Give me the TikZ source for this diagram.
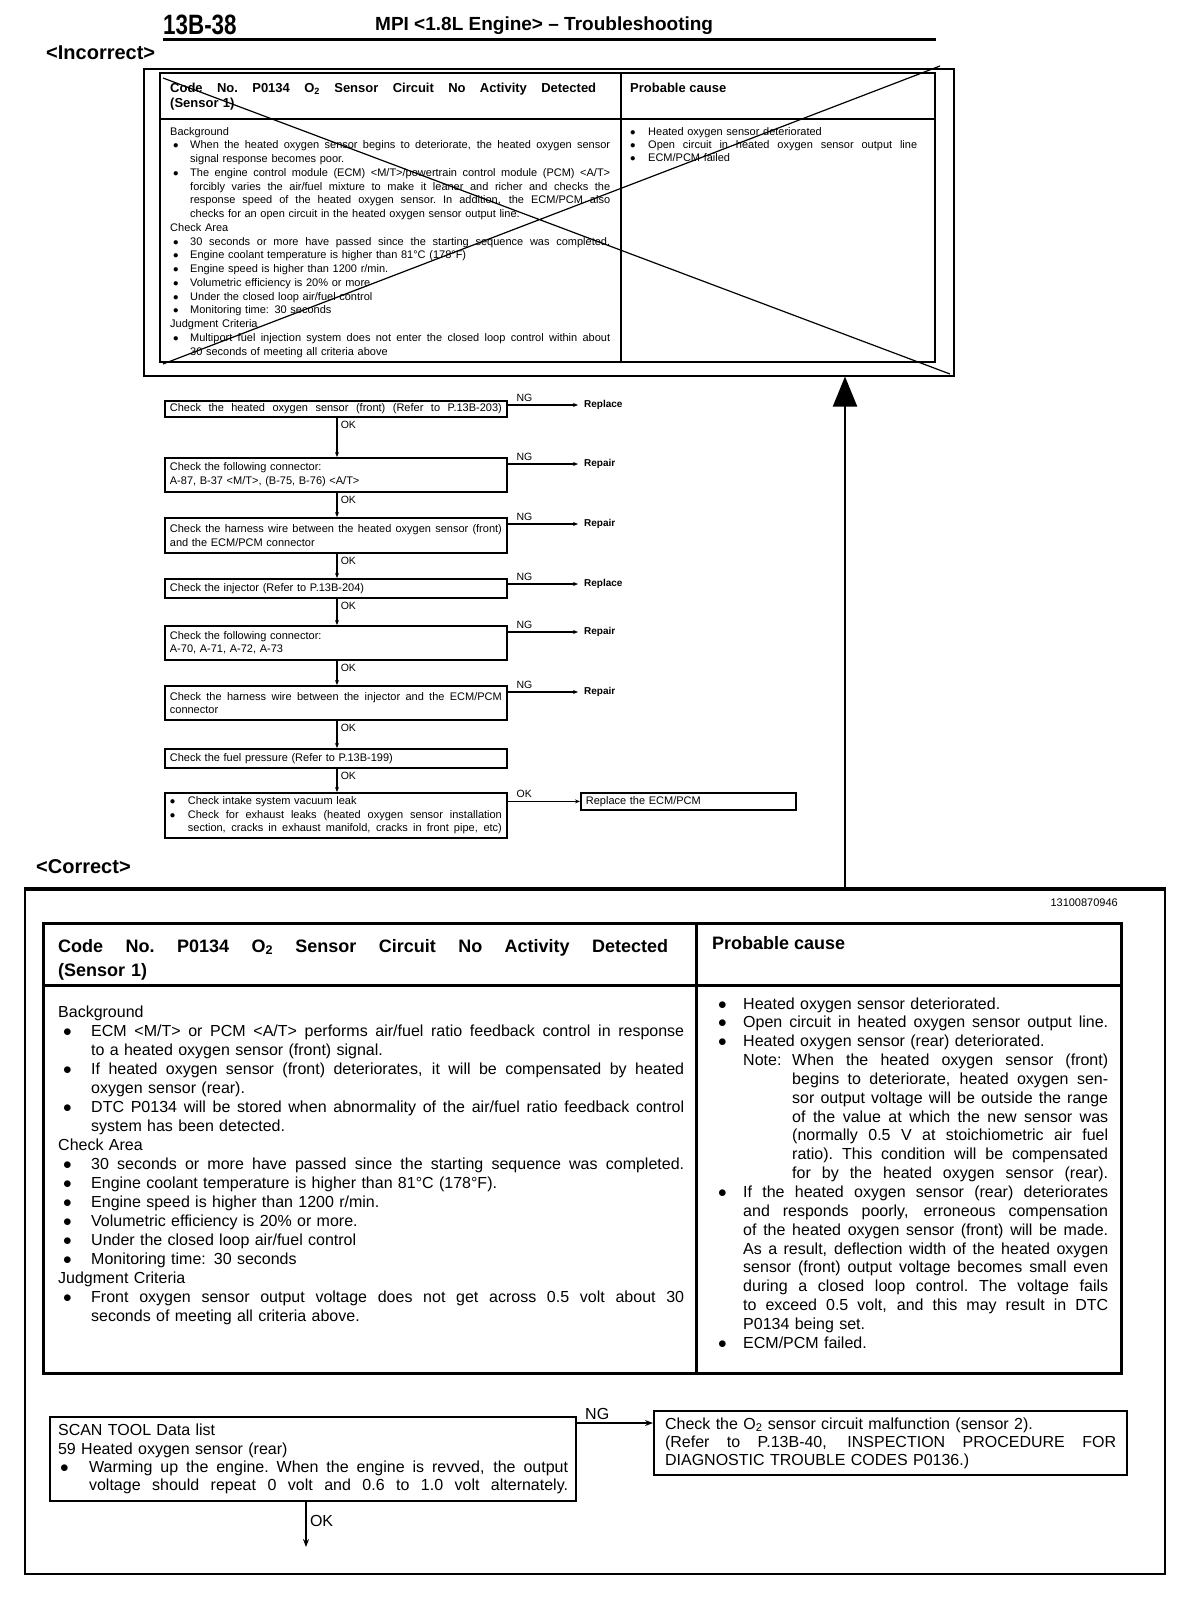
\documentclass[tikz,border=0pt]{standalone}
\usepackage{fontspec}
\setmainfont{Liberation Sans}
\newfontfamily\condfont[FakeStretch=0.8]{Liberation Sans}
\usetikzlibrary{arrows.meta,positioning}

\newlength{\bind}
\newlength{\boff}
\newcommand{\fsz}[2]{\fontsize{#1}{#2}\selectfont}
% one line: indent #1, label #2, text #3 (justified / natural)
\newcommand{\Lx}[3]{\noindent\hbox to\hsize{\makebox[#1][l]{#2}%
  \hbox to\dimexpr\hsize-#1\relax{\spaceskip=.28em plus 1fil\xspaceskip=.28em plus 1fil\relax #3}}\par}
\newcommand{\Ly}[3]{\noindent\hbox to\hsize{\makebox[#1][l]{#2}#3\hfil}\par}
\newcommand{\Lj}[1]{\Lx{0pt}{}{#1}}
\newcommand{\Ln}[1]{\Ly{0pt}{}{#1}}
\newcommand{\Bj}[1]{\Lx{\bind}{\hspace*{\boff}$\bullet$}{#1}}
\newcommand{\Bn}[1]{\Ly{\bind}{\hspace*{\boff}$\bullet$}{#1}}
\newcommand{\Cj}[1]{\Lx{\bind}{}{#1}}
\newcommand{\Cn}[1]{\Ly{\bind}{}{#1}}

\begin{document}
\begin{tikzpicture}[x=1pt, y=-1pt, >={Stealth[length=5pt,width=4pt]},
    flowbox/.style={draw, line width=1.8pt, anchor=north west, inner xsep=5pt, inner ysep=0pt,
      text width=332pt, font=\fsz{11}{13.6}},
    flowtag/.style={anchor=west, inner xsep=6pt, inner ysep=1pt, font=\bfseries\fsz{10}{12}},
    small/.style={inner sep=1pt, font=\fsz{10.5}{12}},
    bodytext/.style={anchor=base west, inner sep=0pt},
    panel/.style={draw, anchor=north west, inner sep=0pt},
    flowline/.style={line width=1.6pt, ->}]
  \fill[white] (0,0) rectangle (1200,1598);
  \useasboundingbox (0,0) rectangle (1200,1598);

  % page header
  \node[anchor=west, inner sep=0pt, font=\condfont\bfseries\fsz{28}{30}] (page) at (163,25) {13B-38};
  \node[anchor=west, inner sep=0pt, font=\bfseries\fsz{19}{22}] (heading) at (375,26) {MPI <1.8L Engine> -- Troubleshooting};
  \draw[line width=3pt] (163,39) -- (936,39);

  % <Incorrect>
  \node[anchor=west, inner sep=0pt, font=\bfseries\fsz{20}{22}] (incorrect) at (46,53) {<Incorrect>};
  \node[panel, line width=1.5pt, minimum width=810pt, minimum height=307pt] (iframe) at (143,68) {};
  \draw[line width=2.5pt] (160,73) rectangle (935,362);
  \draw[line width=2.5pt] (621,73) -- (621,362) (160,119) -- (935,119);

  \node[bodytext, text width=426pt, font=\bfseries\fsz{13}{15}] (ititle) at (170,92) {%
    \Lj{Code No. P0134 O\textsubscript{2} Sensor Circuit No Activity Detected}\Ln{(Sensor 1)}};
  \node[bodytext, font=\bfseries\fsz{13}{15}] (icause) at (630,92) {Probable cause};

  \node[bodytext, text width=440pt, font=\fsz{11}{13.76}] (ibody) at (170,135) {%
    \setlength{\bind}{20pt}\setlength{\boff}{3pt}%
    \Ln{Background}
    \Bj{When the heated oxygen sensor begins to deteriorate, the heated oxygen sensor}
    \Cn{signal response becomes poor.}
    \Bj{The engine control module (ECM) <M/T>/powertrain control module (PCM) <A/T>}
    \Cj{forcibly varies the air/fuel mixture to make it leaner and richer and checks the}
    \Cj{response speed of the heated oxygen sensor. In addition, the ECM/PCM also}
    \Cn{checks for an open circuit in the heated oxygen sensor output line.}
    \Ln{Check Area}
    \Bj{30 seconds or more have passed since the starting sequence was completed.}
    \Bn{Engine coolant temperature is higher than 81°C (178°F)}
    \Bn{Engine speed is higher than 1200 r/min.}
    \Bn{Volumetric efficiency is 20\% or more}
    \Bn{Under the closed loop air/fuel control}
    \Bn{Monitoring time: 30 seconds}
    \Ln{Judgment Criteria}
    \Bj{Multiport fuel injection system does not enter the closed loop control within about}
    \Cn{30 seconds of meeting all criteria above}};

  \node[bodytext, text width=287pt, font=\fsz{11}{13.3}] (icauses) at (630,135) {%
    \setlength{\bind}{18pt}\setlength{\boff}{0pt}%
    \Bn{Heated oxygen sensor deteriorated}
    \Bj{Open circuit in heated oxygen sensor output line}
    \Bn{ECM/PCM failed}};

  % crossed out
  \draw[line width=1.2pt] (163,78) -- (950,374) (940,66) -- (163,364);

  % incorrect flow
  \node[flowbox, minimum height=16pt] (chk1) at (164,400) {\Lj{Check the heated oxygen sensor (front) (Refer to P.13B-203)}};
  \node[flowbox, minimum height=34pt] (chk2) at (164,457) {\Ln{Check the following connector:}\Ln{A-87, B-37 <M/T>, (B-75, B-76) <A/T>}};
  \node[flowbox, minimum height=35pt] (chk3) at (164,517) {\Lj{Check the harness wire between the heated oxygen sensor (front)}\Ln{and the ECM/PCM connector}};
  \node[flowbox, minimum height=19pt] (chk4) at (164,578) {\Ln{Check the injector (Refer to P.13B-204)}};
  \node[flowbox, minimum height=34pt] (chk5) at (164,625) {\Ln{Check the following connector:}\Ln{A-70, A-71, A-72, A-73}};
  \node[flowbox, minimum height=34pt] (chk6) at (164,685) {\Lj{Check the harness wire between the injector and the ECM/PCM}\Ln{connector}};
  \node[flowbox, minimum height=19pt] (chk7) at (164,748) {\Ln{Check the fuel pressure (Refer to P.13B-199)}};
  \node[flowbox, minimum height=45pt] (chk8) at (164,792) {%
    \setlength{\bind}{18pt}\setlength{\boff}{0pt}%
    \Bn{Check intake system vacuum leak}
    \Bj{Check for exhaust leaks (heated oxygen sensor installation}
    \Cj{section, cracks in exhaust manifold, cracks in front pipe, etc)}};
  \node[flowbox, text width=205pt, minimum height=17pt] (ecm) at (580,792) {\Ln{Replace the ECM/PCM}};

  \node[flowtag] (rep1) at (578,405) {Replace};
  \node[flowtag] (rep2) at (578,464) {Repair};
  \node[flowtag] (rep3) at (578,524) {Repair};
  \node[flowtag] (rep4) at (578,584) {Replace};
  \node[flowtag] (rep5) at (578,632) {Repair};
  \node[flowtag] (rep6) at (578,692) {Repair};

  \foreach \i in {1,...,6}
    \draw[flowline] (chk\i.east |- rep\i) -- (rep\i.west)
      node[small, pos=0, anchor=south west, xshift=7pt, yshift=2pt] {NG};
  \draw[flowline] (chk8.east |- ecm) -- (ecm.west)
    node[small, pos=0, anchor=south west, xshift=7pt, yshift=2pt] {OK};

  \coordinate (okx) at (337,0);
  \foreach \i/\j in {1/2,2/3,3/4,4/5,5/6,6/7,7/8}
    \draw[flowline] (chk\i.south -| okx) -- (chk\j.north -| okx)
      node[small, pos=0, anchor=north west, xshift=2pt, yshift=-2pt] {OK};

  % <Correct>
  \node[anchor=west, inner sep=0pt, font=\bfseries\fsz{20}{22}] (correct) at (36,867) {<Correct>};
  \node[panel, line width=2pt, minimum width=1140pt, minimum height=684pt] (cframe) at (24,889) {};
  \draw[line width=4pt] (cframe.north west) -- (cframe.north east);
  \coordinate (bigx) at (845,0);
  \draw[line width=2pt, -{Triangle[width=24pt,length=30pt]}] (cframe.north -| bigx) -- (iframe.south -| bigx);

  \node[anchor=east, inner sep=0pt, font=\fsz{11}{12}] (docid) at (1118,903) {13100870946};

  \draw[line width=3pt] (43,923) rectangle (1121,1373);
  \draw[line width=3pt] (696,923) -- (696,1373) (43,985) -- (1121,985);

  \node[bodytext, text width=610pt, font=\bfseries\fsz{18}{24}] (ctitle) at (58,952) {%
    \Lj{Code No. P0134 O\textsubscript{2} Sensor Circuit No Activity Detected}\Ln{(Sensor 1)}};
  \node[bodytext, font=\bfseries\fsz{18}{24}] (ccause) at (712,949) {Probable cause};

  \node[bodytext, text width=626pt, font=\fsz{16}{19.05}] (cbody) at (58,1017) {%
    \setlength{\bind}{33pt}\setlength{\boff}{5pt}%
    \Ln{Background}
    \Bj{ECM <M/T> or PCM <A/T> performs air/fuel ratio feedback control in response}
    \Cn{to a heated oxygen sensor (front) signal.}
    \Bj{If heated oxygen sensor (front) deteriorates, it will be compensated by heated}
    \Cn{oxygen sensor (rear).}
    \Bj{DTC P0134 will be stored when abnormality of the air/fuel ratio feedback control}
    \Cn{system has been detected.}
    \Ln{Check Area}
    \Bj{30 seconds or more have passed since the starting sequence was completed.}
    \Bn{Engine coolant temperature is higher than 81°C (178°F).}
    \Bn{Engine speed is higher than 1200 r/min.}
    \Bn{Volumetric efficiency is 20\% or more.}
    \Bn{Under the closed loop air/fuel control}
    \Bn{Monitoring time: 30 seconds}
    \Ln{Judgment Criteria}
    \Bj{Front oxygen sensor output voltage does not get across 0.5 volt about 30}
    \Cn{seconds of meeting all criteria above.}};

  \node[bodytext, text width=390pt, font=\fsz{16}{18.85}] (ccauses) at (718,1009) {%
    \setlength{\bind}{25pt}\setlength{\boff}{0pt}%
    \Bn{Heated oxygen sensor deteriorated.}
    \Bj{Open circuit in heated oxygen sensor output line.}
    \Bn{Heated oxygen sensor (rear) deteriorated.}
    \Lx{74pt}{\hspace*{25pt}Note:}{When the heated oxygen sensor (front)}
    \Lx{74pt}{}{begins to deteriorate, heated oxygen sen-}
    \Lx{74pt}{}{sor output voltage will be outside the range}
    \Lx{74pt}{}{of the value at which the new sensor was}
    \Lx{74pt}{}{(normally 0.5 V at stoichiometric air fuel}
    \Lx{74pt}{}{ratio). This condition will be compensated}
    \Lx{74pt}{}{for by the heated oxygen sensor (rear).}
    \Bj{If the heated oxygen sensor (rear) deteriorates}
    \Cj{and responds poorly, erroneous compensation}
    \Cj{of the heated oxygen sensor (front) will be made.}
    \Cj{As a result, deflection width of the heated oxygen}
    \Cj{sensor (front) output voltage becomes small even}
    \Cj{during a closed loop control. The voltage fails}
    \Cj{to exceed 0.5 volt, and this may result in DTC}
    \Cn{P0134 being set.}
    \Bn{ECM/PCM failed.}};

  % correct flow
  \node[flowbox, line width=2.2pt, text width=510pt, inner xsep=8pt, minimum height=84pt, font=\fsz{16}{18.3}] (scan) at (49,1416) {%
    \setlength{\bind}{31pt}\setlength{\boff}{2pt}%
    \Ln{SCAN TOOL Data list}
    \Ln{59 Heated oxygen sensor (rear)}
    \Bj{Warming up the engine. When the engine is revved, the output}
    \Cj{voltage should repeat 0 volt and 0.6 to 1.0 volt alternately.}};
  \node[flowbox, line width=2.2pt, text width=451pt, inner xsep=11pt, minimum height=64pt, font=\fsz{16}{18}] (o2chk) at (653,1410) {%
    \Ln{Check the O\textsubscript{2} sensor circuit malfunction (sensor 2).}
    \Lj{(Refer to P.13B-40, INSPECTION PROCEDURE FOR}
    \Ln{DIAGNOSTIC TROUBLE CODES P0136.)}};

  \coordinate (ngy) at (0,1423);
  \draw[line width=2pt, -{Stealth[length=8pt,width=6pt]}] (scan.east |- ngy) -- (o2chk.west |- ngy)
    node[pos=0, anchor=south west, inner sep=1pt, xshift=6pt, yshift=1pt, font=\fsz{16}{18}] {NG};
  \coordinate (okend) at (306,1547);
  \draw[line width=2pt, -{Stealth[length=8pt,width=6pt]}] (scan.south -| okend) -- (okend)
    node[pos=0.42, anchor=west, inner sep=3pt, font=\fsz{16}{18}] {OK};
\end{tikzpicture}
\end{document}
